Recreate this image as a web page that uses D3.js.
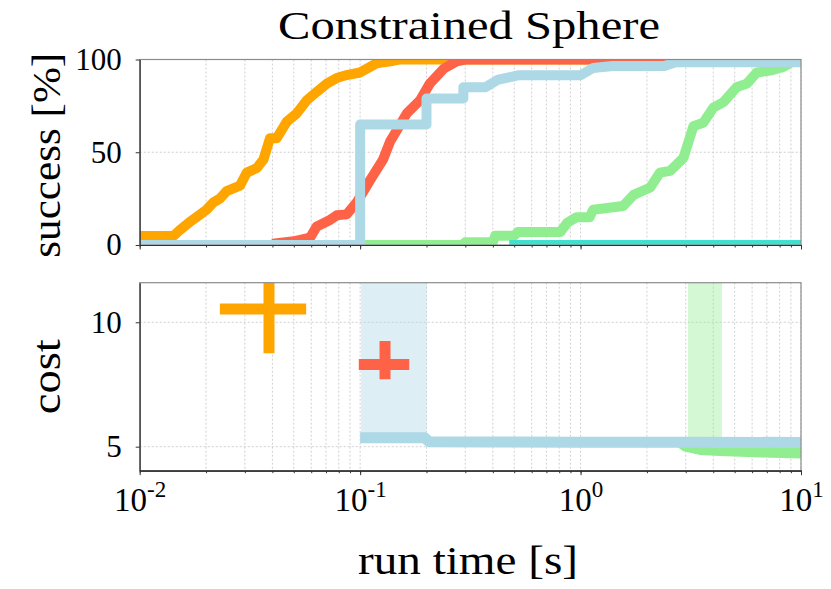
<!DOCTYPE html>
<html>
<head>
<meta charset="utf-8">
<script src="https://cdn.jsdelivr.net/npm/d3@7"></script>
<style>
  body { margin: 0; background: #fff; }
  svg { display: block; }
  text { font-family: "Liberation Serif", "Times New Roman", serif; }
</style>
</head>
<body>
<div id="container"></div>
<script>
/* DATA */
// success curves: run time [s] vs success [%]
const orangeT = [0.01, 0.0142, 0.0152, 0.0169, 0.0181, 0.0201, 0.0216, 0.0231, 0.0248, 0.0285, 0.0306, 0.034, 0.0364, 0.039, 0.0418, 0.0465, 0.0516, 0.0573, 0.0636, 0.0706, 0.0783, 0.0869, 0.1, 0.111, 0.119, 0.137, 0.15, 10];
const orangeS = [4.8, 4.8, 8, 12.5, 15, 19, 23, 25, 29, 32, 39, 41.5, 46, 57.5, 57.5, 66.5, 71, 78, 82.6, 87, 90, 91.6, 93, 96, 98, 99, 100, 100];

const redT = [0.042, 0.05, 0.0593, 0.0636, 0.073, 0.0783, 0.0869, 0.0966, 0.111, 0.127, 0.137, 0.147, 0.163, 0.187, 0.207, 0.239, 0.274, 0.3, 10];
const redS = [1, 2, 4, 10, 13.5, 16, 16.5, 23, 35, 46, 56, 62, 71, 78, 87, 95, 99, 100, 100];

const greenT = [0.1, 0.29, 0.3, 0.4, 0.41, 0.5, 0.52, 0.81, 0.87, 0.96, 1.1, 1.14, 1.56, 1.74, 2.07, 2.29, 2.55, 2.93, 3.25, 3.61, 4.0, 4.45, 5.1, 5.68, 6.3, 7.25, 8.32, 8.9, 9.5, 10];
const greenS = [0, 0, 1.5, 1.5, 5, 5, 7, 7, 12, 15, 15, 19, 21, 27, 31, 39, 40, 47, 64, 66, 74, 77, 85, 87, 93, 94, 96, 98, 100, 100];

const lightblueT = [0.01, 0.1, 0.1, 0.2, 0.2, 0.294, 0.294, 0.37, 0.42, 0.52, 1.0, 1.14, 1.4, 2.4, 2.7, 10];
const lightblueS = [0, 0, 65, 65, 79, 79, 85, 85, 89, 91.5, 91.5, 95.4, 96.5, 96.5, 98.5, 98.5];

const tealT = [0.5, 10];
const tealS = [0, 0];

// cost curves: run time [s] vs cost
const lightblueCostT = [0.1, 0.196, 0.206, 0.5, 1, 3, 10];
const lightblueCost = [5.36, 5.36, 5.2, 5.19, 5.18, 5.18, 5.17];
const greenCostT = [2.85, 3.0, 3.49, 4.3, 6.6, 10];
const greenCost = [5.16, 5.02, 4.89, 4.85, 4.79, 4.75];

// shaded cost spread
const lightblueBandT = [0.101, 0.2005];
const lightblueBandLo = [5.36, 5.36];
const lightblueBandHi = [12, 12];
const greenBandT = [3.07, 4.38];
const greenBandLo = [4.9, 4.9];
const greenBandHi = [12, 12];

// error crosses: [time, timeLo, timeHi, cost, costLo, costHi]
const orangeCross = [0.0386, 0.0231, 0.0569, 10.53, 8.75, 12.31];
const redCross = [0.1297, 0.0986, 0.167, 8.30, 7.71, 9.25];

// ticks
const xMajor = [0.01, 0.1, 1, 10];
const successTicks = [0, 50, 100];
const costTicks = [5, 10];

/* LAYOUT */
const width = 831, height = 589;
const left = 139.7, right = 801;
const top1 = 59.5, bot1 = 245;
const top2 = 282.7, bot2 = 470.7;
const font = "Liberation Serif";

const colors = {
  orange: "#FFA500", red: "#FF6347", green: "#90EE90",
  lightblue: "#ADD8E6", teal: "#40E0D0"
};

/* SCALES */
const xScale = d3.scaleLog().domain([0.01, 10]).range([left, right]);
const ySucc = d3.scaleLinear().domain([0, 100]).range([bot1, top1]);
const yCost = d3.scaleLinear().domain([4.035, 11.59]).range([bot2, top2]);

const svg = d3.select("#container")
  .append("svg")
  .attr("width", width)
  .attr("height", height)
  .attr("font-family", font);

// clip paths
const defs = svg.append("defs");
defs.append("clipPath").attr("id", "clip1")
  .append("rect").attr("x", left).attr("y", top1).attr("width", right - left).attr("height", bot1 - top1);
defs.append("clipPath").attr("id", "clip2")
  .append("rect").attr("x", left).attr("y", top2).attr("width", right - left).attr("height", bot2 - top2);

/* GRID */
function grid(yScale, yTicks, y0, y1) {
  const g = svg.append("g")
    .attr("stroke", "#c4c4c4")
    .attr("stroke-width", 0.8)
    .attr("stroke-dasharray", "2,2");
  g.selectAll(".vx")
    .data(xScale.ticks())
    .join("line")
    .attr("x1", d => xScale(d)).attr("x2", d => xScale(d))
    .attr("y1", y0).attr("y2", y1);
  g.selectAll(".hy")
    .data(yTicks)
    .join("line")
    .attr("x1", left).attr("x2", right)
    .attr("y1", d => yScale(d)).attr("y2", d => yScale(d));
}
grid(ySucc, successTicks, top1, bot1);
grid(yCost, costTicks, top2, bot2);

/* TOP PANEL: success */
const succLine = d3.line()
  .x(d => xScale(d[0]))
  .y(d => ySucc(d[1]));

const topG = svg.append("g").attr("clip-path", "url(#clip1)");
[
  [orangeT, orangeS, colors.orange],
  [redT, redS, colors.red],
  [greenT, greenS, colors.green],
  [lightblueT, lightblueS, colors.lightblue],
  [tealT, tealS, colors.teal]
].forEach(([t, s, c]) => {
  topG.append("path")
    .datum(d3.zip(t, s))
    .attr("d", succLine)
    .attr("fill", "none")
    .attr("stroke", c)
    .attr("stroke-width", 10)
    .attr("stroke-linejoin", "round")
    .attr("stroke-linecap", "square");
});

/* BOTTOM PANEL: cost */
const bottomG = svg.append("g").attr("clip-path", "url(#clip2)");

const band = d3.area()
  .x(d => xScale(d[0]))
  .y0(d => yCost(d[1]))
  .y1(d => yCost(d[2]));

bottomG.append("path")
  .datum(d3.zip(lightblueBandT, lightblueBandLo, lightblueBandHi))
  .attr("d", band)
  .attr("fill", colors.lightblue)
  .attr("fill-opacity", 0.42);
bottomG.append("path")
  .datum(d3.zip(greenBandT, greenBandLo, greenBandHi))
  .attr("d", band)
  .attr("fill", colors.green)
  .attr("fill-opacity", 0.4);

const costLine = d3.line()
  .x(d => xScale(d[0]))
  .y(d => yCost(d[1]));

[
  [greenCostT, greenCost, colors.green],
  [lightblueCostT, lightblueCost, colors.lightblue]
].forEach(([t, s, c]) => {
  bottomG.append("path")
    .datum(d3.zip(t, s))
    .attr("d", costLine)
    .attr("fill", "none")
    .attr("stroke", c)
    .attr("stroke-width", 11)
    .attr("stroke-linejoin", "round");
});

// error crosses
[[orangeCross, colors.orange], [redCross, colors.red]].forEach(([d, c]) => {
  const [t, tLo, tHi, cost, cLo, cHi] = d;
  bottomG.append("line")
    .attr("x1", xScale(tLo)).attr("x2", xScale(tHi))
    .attr("y1", yCost(cost)).attr("y2", yCost(cost))
    .attr("stroke", c).attr("stroke-width", 11);
  bottomG.append("line")
    .attr("x1", xScale(t)).attr("x2", xScale(t))
    .attr("y1", yCost(cLo)).attr("y2", yCost(cHi))
    .attr("stroke", c).attr("stroke-width", 11);
});

/* AXES */
function frame(y0, y1) {
  svg.append("rect")
    .attr("x", left).attr("y", y0)
    .attr("width", right - left).attr("height", y1 - y0)
    .attr("fill", "none")
    .attr("stroke", "#8c8c8c")
    .attr("stroke-width", 1.2);
}
frame(top1, bot1);
frame(top2, bot2);

function styleAxis(g) {
  g.attr("font-family", font);
  g.select(".domain").attr("stroke", "#333").attr("stroke-width", 1.2);
  g.selectAll(".tick line").attr("stroke", "#333");
  g.selectAll(".tick text")
    .attr("font-family", font)
    .attr("font-size", 31)
    .attr("fill", "#000");
}

// y axes
svg.append("g")
  .attr("transform", `translate(${left},0)`)
  .call(d3.axisLeft(ySucc).tickValues(successTicks).tickSize(4).tickPadding(14).tickSizeOuter(0))
  .call(styleAxis);
svg.append("g")
  .attr("transform", `translate(${left},0)`)
  .call(d3.axisLeft(yCost).tickValues(costTicks).tickSize(4).tickPadding(14).tickSizeOuter(0))
  .call(styleAxis);

// x axes: minor ticks + major ticks
function xAxis(y0, labels) {
  svg.append("g")
    .attr("transform", `translate(0,${y0})`)
    .call(d3.axisBottom(xScale).tickValues(xScale.ticks()).tickSize(2.5).tickFormat("").tickSizeOuter(0))
    .call(styleAxis);
  const g = svg.append("g")
    .attr("transform", `translate(0,${y0})`)
    .call(d3.axisBottom(xScale).tickValues(xMajor).tickSize(4.5).tickSizeOuter(0)
      .tickFormat(labels ? d => "10" : ""))
    .call(styleAxis);
  if (labels) {
    g.selectAll(".tick text")
      .attr("dy", null)
      .attr("y", 40)
      .attr("font-size", 33)
      .each(function(d) {
        d3.select(this).append("tspan")
          .attr("dy", -14)
          .attr("font-size", 23)
          .text(Math.round(Math.log10(d)));
      });
  }
}
xAxis(bot1, false);
xAxis(bot2, true);

/* TEXT */
svg.append("text")
  .attr("x", 469).attr("y", 38.5)
  .attr("text-anchor", "middle")
  .attr("font-size", 40)
  .attr("textLength", 382)
  .attr("lengthAdjust", "spacingAndGlyphs")
  .text("Constrained Sphere");

svg.append("text")
  .attr("x", 468).attr("y", 574)
  .attr("text-anchor", "middle")
  .attr("font-size", 40)
  .attr("textLength", 220)
  .attr("lengthAdjust", "spacingAndGlyphs")
  .text("run time [s]");

svg.append("text")
  .attr("transform", `translate(60,${(top1 + bot1) / 2 + 3}) rotate(-90)`)
  .attr("text-anchor", "middle")
  .attr("font-size", 40)
  .attr("textLength", 205)
  .attr("lengthAdjust", "spacingAndGlyphs")
  .text("success [%]");

svg.append("text")
  .attr("transform", `translate(60,${(top2 + bot2) / 2}) rotate(-90)`)
  .attr("text-anchor", "middle")
  .attr("font-size", 40)
  .attr("textLength", 75)
  .attr("lengthAdjust", "spacingAndGlyphs")
  .text("cost");
</script>
</body>
</html>
